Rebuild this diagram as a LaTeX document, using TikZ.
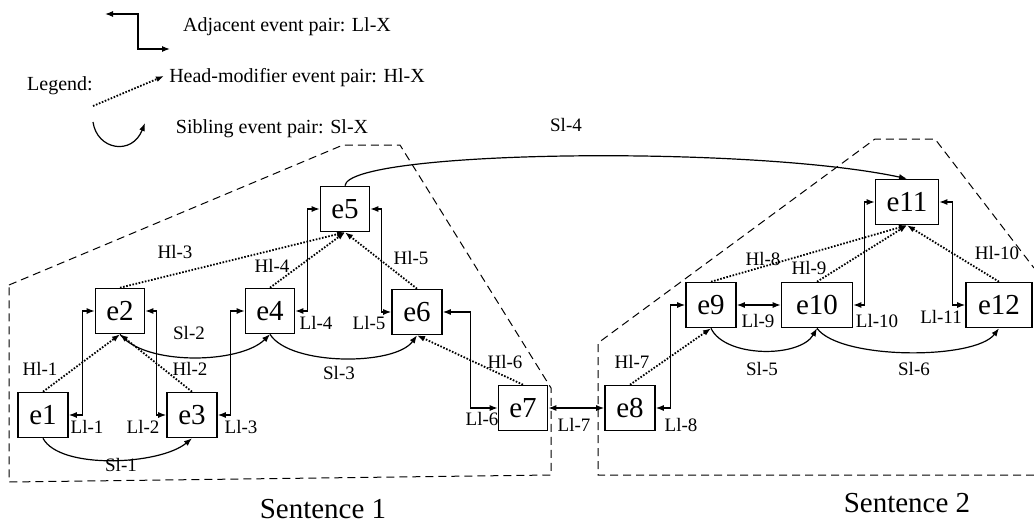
\documentclass[tikz,border=0pt]{standalone}
\usepackage{fontspec}
\setmainfont{Liberation Serif}
\usetikzlibrary{arrows.meta}
\begin{document}
\begin{tikzpicture}[x=1pt,y=-1pt,
 ev/.style={draw,line width=1.6pt,minimum height=45pt,inner sep=0pt,font=\fontsize{29}{29}\selectfont},
 lab/.style={inner sep=0pt,font=\fontsize{19}{19}\selectfont},
 leg/.style={inner sep=0pt,font=\fontsize{20}{20}\selectfont},
 adj/.style={line width=1.2pt,{Latex[length=8pt,width=6pt]}-{Latex[length=8pt,width=6pt]}},
 hm/.style={line width=1.8pt,dash pattern=on 1.6pt off 1.6pt,-{Latex[length=8pt,width=6pt]}},
 sib/.style={line width=1.2pt,-{Latex[length=8pt,width=6pt]}},
 region/.style={line width=1pt,dash pattern=on 8pt off 5pt}]
\useasboundingbox (0,0) rectangle (1034,525);

% regions
\draw[region] (9,285) -- (343,145) -- (400,145) -- (551,388) -- (551,475) -- (9,482) -- cycle;
\draw[region] (1034,475) -- (598,475) -- (598,343) -- (875,139) -- (935,139) -- (1034,268);

% events
\node[ev,minimum width=50pt] (e1) at (43,415) {e1};
\node[ev,minimum width=49pt] (e2) at (120,311) {e2};
\node[ev,minimum width=50pt] (e3) at (192,415) {e3};
\node[ev,minimum width=49pt] (e4) at (270,311) {e4};
\node[ev,minimum width=49pt] (e5) at (345,209) {e5};
\node[ev,minimum width=50pt] (e6) at (417,312) {e6};
\node[ev,minimum width=49pt] (e7) at (523,408) {e7};
\node[ev,minimum width=50pt] (e8) at (630,408) {e8};
\node[ev,minimum width=50pt] (e9) at (711,305) {e9};
\node[ev,minimum width=71pt] (e10) at (817,305) {e10};
\node[ev,minimum width=63pt] (e11) at (907,202) {e11};
\node[ev,minimum width=66pt] (e12) at (999,305) {e12};

% adjacent pairs
\draw[adj] (e1.east) -- ++(14,0) |- (e2.west);
\draw[adj] (e2.east) -- ++(11,0) |- (e3.west);
\draw[adj] (e3.east) -- ++(13,0) |- (e4.west);
\draw[adj] (e4.east) -- ++(12,0) |- (e5.west);
\draw[adj] (e5.east) -- ++(11,0) |- (e6.west);
\draw[adj] (e6.east) -- ++(28,0) |- (e7.west);
\draw[adj] (e7.east) -- (e8.west);
\draw[adj] (e8.east) -- ++(15,0) |- (e9.west);
\draw[adj] (e9.east) -- (e10.west);
\draw[adj] (e10.east) -- ++(11,0) |- (e11.west);
\draw[adj] (e11.east) -- ++(13,0) |- (e12.west);

% head-modifier pairs
\draw[hm] (e1.north) -- (e2.south);
\draw[hm] (e3.north) -- (e2.south);
\draw[hm] (e2.north) -- (e5.south);
\draw[hm] (e4.north) -- (e5.south);
\draw[hm] (e6.north) -- (e5.south);
\draw[hm] (e7.north) -- (e6.south);
\draw[hm] (e8.north) -- (e9.south);
\draw[hm] (e9.north) -- (e11.south);
\draw[hm] (e10.north) -- (e11.south);
\draw[hm] (e12.north) -- (e11.south);

% sibling pairs
\draw[sib] (e1.south) .. controls (60,470) and (160,465) .. (e3.south);
\draw[sib] (e2.south) .. controls (145,366) and (240,364) .. (e4.south);
\draw[sib] (e4.south) .. controls (290,366) and (395,366) .. (e6.south);
\draw[sib] (e5.north) .. controls (348,150) and (750,145) .. (e11.north);
\draw[sib] (e9.south) .. controls (725,358) and (800,358) .. (e10.south);
\draw[sib] (e10.south) .. controls (840,360) and (975,360) .. (e12.south);

% labels
\node[lab] (ll1) at (87,427) {Ll-1};
\node[lab] (ll2) at (143,427) {Ll-2};
\node[lab] (ll3) at (241,427) {Ll-3};
\node[lab] (ll4) at (316,323) {Ll-4};
\node[lab] (ll5) at (369,323) {Ll-5};
\node[lab] (ll6) at (482,419) {Ll-6};
\node[lab] (ll7) at (574,425) {Ll-7};
\node[lab] (ll8) at (681,425) {Ll-8};
\node[lab] (ll9) at (758,321) {Ll-9};
\node[lab] (ll10) at (877,321) {Ll-10};
\node[lab] (ll11) at (941,317) {Ll-11};
\node[lab] (hl1) at (40,369) {Hl-1};
\node[lab] (hl2) at (190,369) {Hl-2};
\node[lab] (hl3) at (175,252) {Hl-3};
\node[lab] (hl4) at (272,266) {Hl-4};
\node[lab] (hl5) at (411,258) {Hl-5};
\node[lab] (hl6) at (505,362) {Hl-6};
\node[lab] (hl7) at (632,362) {Hl-7};
\node[lab] (hl8) at (763,259) {Hl-8};
\node[lab] (hl9) at (809,268) {Hl-9};
\node[lab] (hl10) at (997,253) {Hl-10};
\node[lab] (sl1) at (121,465) {Sl-1};
\node[lab] (sl2) at (189,333) {Sl-2};
\node[lab] (sl3) at (339,373) {Sl-3};
\node[lab] (sl4) at (566,125) {Sl-4};
\node[lab] (sl5) at (762,369) {Sl-5};
\node[lab] (sl6) at (914,369) {Sl-6};

\node[inner sep=0pt,font=\fontsize{29}{29}\selectfont] (s1) at (323,509) {Sentence 1};
\node[inner sep=0pt,font=\fontsize{29}{29}\selectfont] (s2) at (907,503) {Sentence 2};

% legend
\coordinate (la1) at (105,14);
\coordinate (la2) at (170,49);
\draw[adj] (la1) -- (138,14) -- (138,49) -- (la2);
\node[leg] (lt1) at (287,27) {Adjacent event pair: Ll-X};
\node[leg] (lg) at (60,86) {Legend:};
\coordinate (lh1) at (93,106);
\coordinate (lh2) at (164,76);
\draw[hm] (lh1) -- (lh2);
\node[leg] (lt2) at (297,78) {Head-modifier event pair: Hl-X};
\coordinate (ls1) at (93,122);
\coordinate (ls2) at (145,123);
\draw[sib] (ls1) .. controls (97,150) and (132,156) .. (ls2);
\node[leg] (lt3) at (272,129) {Sibling event pair: Sl-X};
\end{tikzpicture}
\end{document}
